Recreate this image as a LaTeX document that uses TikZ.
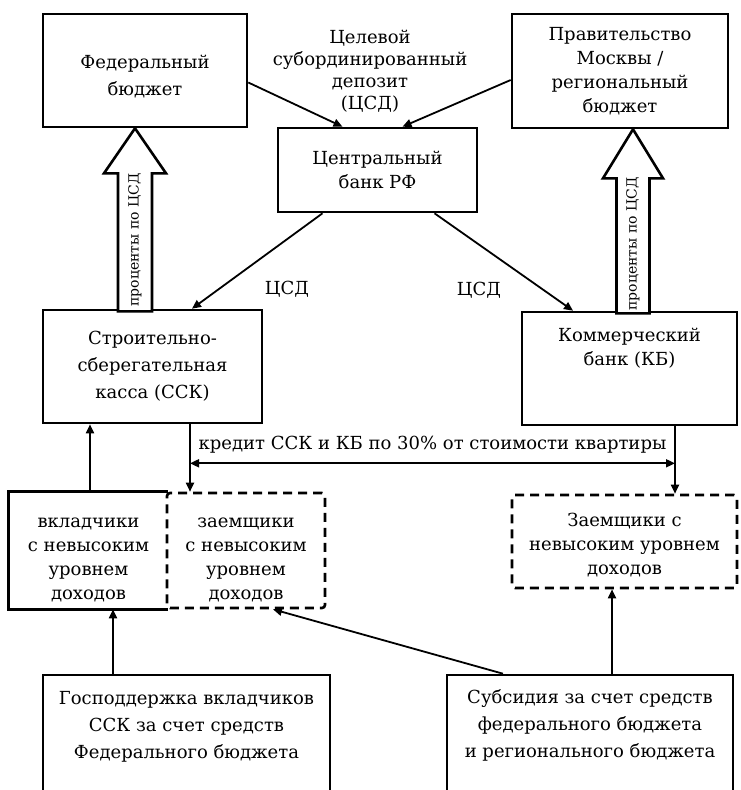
\documentclass[tikz,border=0pt]{standalone}
\usepackage{fontspec}
\setmainfont{DejaVu Serif}
\usetikzlibrary{arrows.meta,calc}

\begin{document}
\begin{tikzpicture}[x=1pt, y=-1pt,
        every node/.style={font=\fontsize{18}{24}\selectfont},
        frame/.style={draw=black, line width=2.6pt},
        box/.style={rectangle, frame, align=center, inner sep=0pt},
        dbox/.style={rectangle, frame, dash pattern=on 9pt off 6pt, rounded corners=3pt, align=center, inner sep=0pt},
        arrow/.style={->, line width=1.8pt, draw=black, >={Triangle[length=9pt,width=8pt]}},
        note/.style={align=center, inner sep=0pt},
        loose/.style={font=\fontsize{18}{27}\selectfont},
        vert/.style={font=\fontsize{14}{16}\selectfont, rotate=90, inner sep=0pt},
    ]

        \useasboundingbox (0,0) rectangle (741,790);
        \clip (0,0) rectangle (741,790);

        % top row
        \node[box, loose, minimum width=204pt, minimum height=113pt] (fed) at (145,70.5) {\rule{0pt}{25pt}Федеральный\\бюджет};
        \node[box, minimum width=216pt, minimum height=114pt] (prav) at (620,71) {Правительство\\Москвы /\\региональный\\бюджет};
        \node[note, font=\fontsize{18}{22}\selectfont] (csd) at (370,71) {Целевой\\субординированный\\депозит\\(ЦСД)};
        \node[box, minimum width=199pt, minimum height=84pt] (cb) at (377.5,170) {Центральный\\банк РФ};

        % banks
        \node[box, loose, minimum width=219pt, minimum height=113pt] (ssk) at (152.5,366.5) {Строительно-\\сберегательная\\касса (ССК)};
        \node[box, minimum width=215pt, minimum height=113pt] (kb) at (629.5,368.5) {};
        \node[note, anchor=north] (kbtext) at ([yshift=-17pt]kb.north) {Коммерческий\\банк (КБ)};

        % borrowers
        \node[box, draw=none, minimum width=157pt, minimum height=115pt] (vk) at (88.5,550.5) {\rule{0pt}{29pt}вкладчики\\с невысоким\\уровнем\\доходов};
        \draw[frame] (vk.north east) -- (vk.north west) -- (vk.south west) -- (vk.south east);
        \node[dbox, minimum width=158pt, minimum height=115pt] (zaem) at (246,550.5) {\rule{0pt}{29pt}заемщики\\с невысоким\\уровнем\\доходов};
        \node[dbox, minimum width=225pt, minimum height=93pt] (zaem2) at (624.5,541.5) {\rule{0pt}{21pt}Заемщики с\\невысоким уровнем\\доходов};

        % support
        \node[box, minimum width=287pt, minimum height=145pt] (gosp) at (186.5,747.5) {};
        \node[note, loose, anchor=north] (gosptext) at ([yshift=-17.5pt]gosp.north) {Господдержка вкладчиков\\ССК за счет средств\\Федерального бюджета};
        \node[box, minimum width=286pt, minimum height=145pt] (subs) at (590,747.5) {};
        \node[note, loose, anchor=north] (substext) at ([yshift=-15.5pt]subs.north) {Субсидия за счет средств\\федерального бюджета\\и регионального бюджета};

        % deposit flows
        \draw[arrow] ([yshift=-12pt]fed.east) -- ([xshift=-35pt]cb.north);
        \draw[arrow] ([yshift=-9pt]prav.west) -- ([xshift=25pt]cb.north);
        \draw[arrow] ([xshift=-55pt]cb.south) -- ([xshift=39.5pt]ssk.north);
        \draw[arrow] ([xshift=57pt]cb.south) -- ([xshift=-56.5pt]kb.north);
        \node (csd1) at (287,289) {ЦСД};
        \node (csd2) at (479,290) {ЦСД};

        % interest block arrows
        \coordinate (t1) at ([xshift=-10pt]fed.south);
        \draw[frame, fill=white] (t1) -- ++(31,45) -- ++(-14,0) -- ++(0,138) -- ++(-34,0) -- ++(0,-138) -- ++(-14,0) -- cycle;
        \node[vert] (pr1) at (135,240) {проценты по ЦСД};
        \coordinate (t2) at ([xshift=13pt]prav.south);
        \draw[frame, fill=white] (t2) -- ++(30,49) -- ++(-13.5,0) -- ++(0,135) -- ++(-33,0) -- ++(0,-135) -- ++(-13.5,0) -- cycle;
        \node[vert] (pr2) at (633,244) {проценты по ЦСД};

        % credits
        \coordinate (s1) at ([xshift=37.5pt]ssk.south);
        \coordinate (k1) at ([xshift=45.5pt]kb.south);
        \draw[arrow] (s1) -- (s1 |- zaem.north);
        \draw[arrow] (k1) -- (k1 |- zaem2.north);
        \coordinate (c1) at ([yshift=-39pt]s1);
        \draw[arrow, <->] (c1) -- (c1 -| k1) node[midway, yshift=19pt] {кредит ССК и КБ по 30\% от стоимости квартиры};

        % deposits and subsidies
        \coordinate (v1) at ([xshift=1.5pt]vk.north);
        \draw[arrow] (v1) -- (v1 |- ssk.south);
        \coordinate (g1) at ([xshift=-73.5pt]gosp.north);
        \draw[arrow] (g1) -- (g1 |- vk.south);
        \coordinate (u1) at ([xshift=22pt]subs.north);
        \draw[arrow] (u1) -- (u1 |- zaem2.south);
        \draw[arrow] ([xshift=-87pt]subs.north) -- ([xshift=27pt]zaem.south);

    \end{tikzpicture}
\end{document}
